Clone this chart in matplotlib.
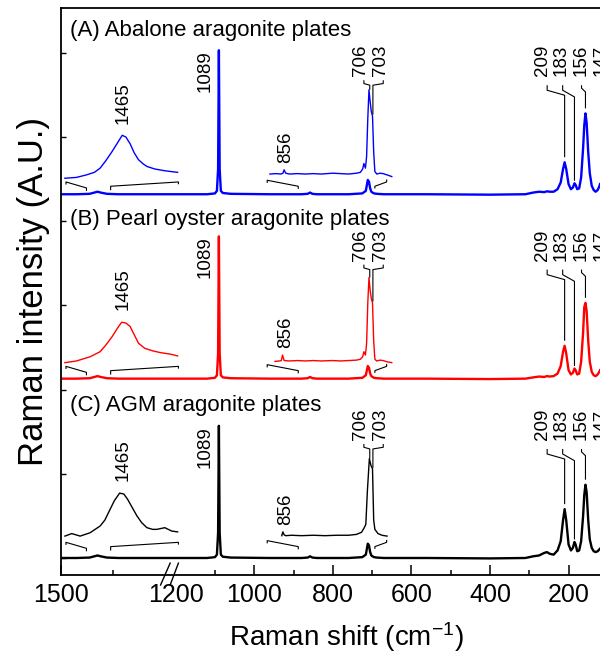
import numpy as np
import matplotlib
matplotlib.use("Agg")
import matplotlib.pyplot as plt

plt.rcParams['font.family'] = ['Liberation Sans', 'DejaVu Sans']
plt.rcParams['mathtext.fontset'] = 'custom'
plt.rcParams['mathtext.rm'] = 'Liberation Sans'
plt.rcParams['mathtext.it'] = 'Liberation Sans:italic'

# full spectra, intensity above each trace's own baseline
shift = [1500, 1470, 1445, 1436, 1430, 1424, 1412, 1390, 1300, 1200, 1120, 1100,
         1095, 1092, 1090, 1088, 1085, 1080, 1060, 960, 880, 864, 858, 852, 840,
         760, 725, 716, 711, 708, 705, 702, 699, 695, 688, 670, 560, 400, 310,
         290, 275, 262, 255, 248, 238, 228, 220, 214, 210, 206, 200, 194, 189,
         185, 182, 178, 173, 168, 163, 160, 157, 154, 150, 146, 141, 136, 131,
         126, 122, 120]
abalone = [0.0, 0.0, 0.005, 0.02, 0.03, 0.02, 0.005, 0.0, 0.0, 0.0, 0.0, 0.01,
           0.04, 0.3, 1.71, 0.3, 0.04, 0.015, 0.005, 0.0, 0.0, 0.005, 0.02, 0.005, 0.0,
           0.0, 0.01, 0.04, 0.17, 0.15, 0.07, 0.03, 0.02, 0.01, 0.005, 0.0, 0.0, -0.005, 0.0,
           0.02, 0.03, 0.025, 0.035, 0.03, 0.03, 0.06, 0.14, 0.3, 0.38, 0.3, 0.12, 0.06, 0.08,
           0.13, 0.11, 0.06, 0.07, 0.2, 0.55, 0.82, 0.96, 0.85, 0.5, 0.25, 0.1, 0.05, 0.03,
           0.05, 0.09, 0.12]
pearl = [0.0, 0.0, 0.005, 0.02, 0.03, 0.02, 0.005, 0.0, 0.0, 0.0, 0.0, 0.01,
         0.04, 0.3, 1.69, 0.3, 0.04, 0.015, 0.005, 0.0, 0.0, 0.005, 0.02, 0.005, 0.0,
         0.0, 0.01, 0.04, 0.15, 0.13, 0.06, 0.03, 0.02, 0.01, 0.005, 0.0, 0.0, -0.005, 0.0,
         0.015, 0.025, 0.02, 0.03, 0.025, 0.03, 0.06, 0.15, 0.32, 0.39, 0.3, 0.1, 0.05, 0.07,
         0.12, 0.1, 0.05, 0.06, 0.2, 0.55, 0.85, 0.9, 0.8, 0.45, 0.2, 0.08, 0.04, 0.03,
         0.05, 0.08, 0.1]
agm = [0.0, 0.0, 0.005, 0.02, 0.03, 0.02, 0.005, 0.0, 0.0, 0.0, 0.0, 0.01,
       0.04, 0.3, 1.57, 0.3, 0.04, 0.015, 0.005, 0.0, 0.0, 0.005, 0.02, 0.005, 0.0,
       0.0, 0.01, 0.04, 0.17, 0.15, 0.07, 0.03, 0.02, 0.01, 0.005, 0.0, 0.0, -0.005, 0.0,
       0.02, 0.03, 0.06, 0.07, 0.05, 0.04, 0.09, 0.2, 0.45, 0.58, 0.45, 0.16, 0.09, 0.12,
       0.19, 0.16, 0.08, 0.09, 0.2, 0.5, 0.75, 0.87, 0.78, 0.45, 0.22, 0.12, 0.08, 0.07,
       0.08, 0.1, 0.11]

# magnified 1465 band inserts (drawn over the 1500-1200 range)
zoom_x_a = [1492, 1470, 1451, 1436, 1425, 1414, 1402, 1390, 1383, 1376, 1368, 1360,
            1352, 1343, 1336, 1321, 1303, 1250, 1195]
zoom_a = [0.19, 0.20, 0.23, 0.26, 0.31, 0.40, 0.51, 0.63, 0.70, 0.68, 0.60, 0.49,
          0.41, 0.36, 0.33, 0.30, 0.28, 0.27, 0.26]
zoom_x_b = [1492, 1470, 1444, 1425, 1414, 1402, 1392, 1384, 1376, 1368, 1360, 1352,
            1340, 1325, 1311, 1250, 1195]
zoom_b = [0.19, 0.21, 0.26, 0.32, 0.40, 0.50, 0.60, 0.67, 0.66, 0.62, 0.52, 0.42,
          0.36, 0.33, 0.31, 0.29, 0.27]
zoom_x_c = [1492, 1479, 1463, 1444, 1425, 1416, 1409, 1398, 1388, 1380, 1373, 1364,
            1355, 1346, 1336, 1325, 1317, 1302, 1240, 1195]
zoom_c = [0.26, 0.29, 0.26, 0.30, 0.38, 0.45, 0.54, 0.68, 0.77, 0.76, 0.70, 0.60,
          0.50, 0.42, 0.36, 0.34, 0.34, 0.36, 0.32, 0.31]

# magnified 856 / 706 / 703 inserts
mid_x_a = [960, 945, 932, 927, 924, 920, 910, 890, 870, 850, 830, 800, 780, 760, 740,
           730, 724, 721, 717, 714, 711, 708, 705, 702, 699, 696, 693, 688, 680, 672, 662, 650]
mid_a = [0.24, 0.245, 0.24, 0.25, 0.29, 0.25, 0.24, 0.245, 0.24, 0.245, 0.24, 0.25, 0.245,
         0.24, 0.25, 0.26, 0.30, 0.365, 0.31, 0.45, 0.9, 1.24, 1.1, 0.98, 0.93, 0.5, 0.27,
         0.24, 0.25, 0.245, 0.23, 0.21]
mid_x_b = [947, 935, 931, 928, 924, 910, 890, 870, 850, 830, 800, 780, 760, 740, 730,
           724, 721, 717, 714, 711, 708, 705, 702, 699, 696, 693, 688, 680, 672, 662, 650]
mid_b = [0.205, 0.21, 0.215, 0.28, 0.215, 0.21, 0.215, 0.21, 0.215, 0.21, 0.215, 0.21,
         0.215, 0.22, 0.23, 0.26, 0.32, 0.28, 0.42, 0.9, 1.2, 1.05, 0.95, 0.9, 0.45, 0.23,
         0.21, 0.22, 0.215, 0.2, 0.19]
mid_x_c = [930, 927, 924, 920, 905, 880, 850, 820, 790, 760, 740, 727, 720, 716, 712,
           707, 703, 699, 696, 693, 685, 675, 662]
mid_c = [0.265, 0.31, 0.275, 0.265, 0.27, 0.265, 0.27, 0.265, 0.27, 0.27, 0.28, 0.305,
         0.36, 0.4, 0.8, 1.18, 1.1, 1.06, 0.45, 0.34, 0.29, 0.27, 0.26]

titles = ["(A) Abalone aragonite plates", "(B) Pearl oyster aragonite plates",
          "(C) AGM aragonite plates"]
colors = ["#0000ff", "#ff0000", "#000000"]
baselines = [4.32, 2.13, 0.0]
title_y = [6.2, 3.95, 1.746]
bracket_lift = [0.0, 0.0, 0.04]

major_ticks = [1500, 1200, 1000, 800, 600, 400, 200]
minor_ticks = [1400, 1100, 900, 700, 500, 300]


def fwd(w):
    # axis break: 1500-1300 drawn wider, 1300-1200 squeezed out
    w = np.asarray(w, float)
    return np.where(w <= 1200, w,
                    np.where(w < 1300, 1200 + (w - 1200) * 0.25, 1225 + (w - 1300) * 1.338))


def inv(u):
    u = np.asarray(u, float)
    return np.where(u <= 1200, u,
                    np.where(u < 1225, 1200 + (u - 1200) / 0.25, 1300 + (u - 1225) / 1.338))


def peak(xs, ys, w, tol=4):
    xs = np.asarray(xs)
    ys = np.asarray(ys)
    return ys[np.abs(xs - w) <= tol].max()


def at(xs, ys, w):
    return float(np.interp(w, np.asarray(xs)[::-1], np.asarray(ys)[::-1]))


def line(ax, xs, ys):
    ax.plot(xs, ys, color="black", lw=0.8, solid_capstyle="butt")


fig = plt.figure(figsize=(6, 6.57), dpi=100)
ax = fig.add_axes([60.7 / 600, 82 / 657, (600 - 60.7) / 600, 567 / 657])
ax.set_xscale("function", functions=(fwd, inv))
ax.set_xlim(1500, 120)
ax.set_ylim(-0.202, 6.532)

zooms = [(zoom_x_a, zoom_a), (zoom_x_b, zoom_b), (zoom_x_c, zoom_c)]
mids = [(mid_x_a, mid_a), (mid_x_b, mid_b), (mid_x_c, mid_c)]
fs_peak = 13.5

for i, spec in enumerate([abalone, pearl, agm]):
    b = baselines[i]
    c = colors[i]
    ax.plot(shift, np.array(spec) + b, color=c, lw=1.7)
    zx, zy = zooms[i]
    ax.plot(zx, np.array(zy) + b, color=c, lw=1.0)
    mx, my = mids[i]
    ax.plot(mx, np.array(my) + b, color=c, lw=1.0)

    ax.text(1482, title_y[i], titles[i], fontsize=16, va="baseline", ha="left")

    # peak labels
    ax.text(1124, b + peak(shift, spec, 1090), "1089", rotation=90, fontsize=fs_peak,
            ha="center", va="top")
    ax.text(1382, b + max(zy) + 0.14, "1465", rotation=90, fontsize=fs_peak,
            ha="center", va="bottom")
    ax.text(921, b + peak(mx, my, 925, 5) + 0.08, "856", rotation=90, fontsize=fs_peak,
            ha="center", va="bottom")
    for lab, w in [("706", 729), ("703", 679), ("209", 266), ("183", 218),
                   ("156", 167), ("147", 118)]:
        ax.text(w, b + 1.40, lab, rotation=90, fontsize=fs_peak, ha="center", va="bottom")

    # leaders
    top_706 = peak(mx, my, 708, 3)
    line(ax, [721, 721, 706, 706], [b + 1.354, b + 1.315, b + 1.295, b + top_706])
    line(ax, [671.7, 671.7, 698, 698], [b + 1.354, b + 1.315, b + 1.295, b + at(mx, my, 700)])
    line(ax, [254.5, 254.5, 210, 210],
         [b + 1.295, b + 1.235, b + 1.176, b + peak(shift, spec, 210) + 0.06])
    line(ax, [215, 215, 185, 185],
         [b + 1.295, b + 1.235, b + 1.156, b + peak(shift, spec, 185) + 0.03])
    line(ax, [167, 167, 157, 157],
         [b + 1.295, b + 1.26, b + 1.215, b + peak(shift, spec, 157) + 0.06])

    # range brackets under the inserts
    k = b + bracket_lift[i]
    line(ax, [1490, 1490, 1451, 1451], [k + 0.115, k + 0.146, k + 0.075, k + 0.04])
    line(ax, [1405, 1405, 1193, 1193], [k + 0.048, k + 0.095, k + 0.146, k + 0.119])
    line(ax, [967, 967, 888, 888], [k + 0.134, k + 0.166, k + 0.095, k + 0.063])
    line(ax, [693, 693, 663, 663], [k + 0.068, k + 0.095, k + 0.146, k + 0.175])

# axes styling
for s in ["left", "top", "bottom"]:
    ax.spines[s].set_linewidth(1.3)
ax.spines["right"].set_visible(False)

ax.set_xticks(major_ticks)
ax.set_xticklabels([str(t) for t in major_ticks])
ax.set_xticks(minor_ticks, minor=True)
ax.xaxis.get_major_ticks()[1].tick1line.set_visible(False)
ax.tick_params(axis="x", which="major", direction="in", length=7, width=1.1,
               labelsize=18, pad=6, top=False)
ax.tick_params(axis="x", which="minor", direction="in", length=3.6, width=1.1, top=False)
ax.set_yticks(range(7))
ax.tick_params(axis="y", direction="in", length=3.3, width=1.0, labelleft=False, right=False)

# break marks on the x axis
brk = ax.get_xaxis_transform()
ax.plot([1310, 1256], [-0.0176, 0.021], color="black", lw=1.0, transform=brk, clip_on=False)
ax.plot([1256, 1193], [-0.0176, 0.021], color="black", lw=1.0, transform=brk, clip_on=False)

ax.set_xlabel("Raman shift (cm$^{-1}$)", fontsize=20)
ax.xaxis.set_label_coords(0.529, -0.08)
ax.set_ylabel("Raman intensity (A.U.)", fontsize=25, labelpad=8)

fig.savefig("out.png", dpi=100)
